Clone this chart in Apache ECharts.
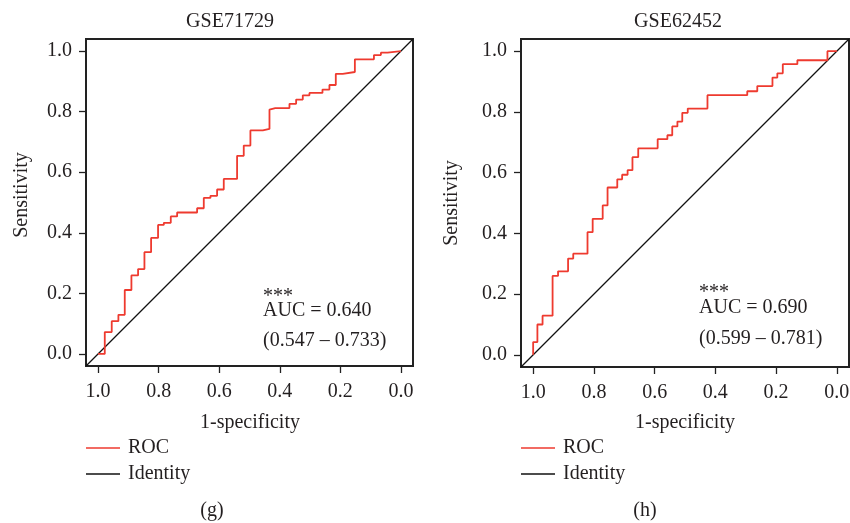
<!DOCTYPE html>
<html>
<head>
<meta charset="utf-8">
<script src="https://cdn.jsdelivr.net/npm/echarts@6/dist/echarts.min.js"></script>
<style>
html,body{margin:0;padding:0;background:#fff;}
#chart{width:850px;height:523px;}
</style>
</head>
<body>
<div id="chart"></div>
<script>
// ---- data ----
const titles = ['GSE71729', 'GSE62452'];
const panelTags = ['(g)', '(h)'];
const aucTexts = ['AUC = 0.640', 'AUC = 0.690'];
const ciTexts = ['(0.547 \u2013 0.733)', '(0.599 \u2013 0.781)'];
const tickValues = [0, 0.2, 0.4, 0.6, 0.8, 1.0];
const axisMin = -0.04;
const axisMax = 1.04;

// GSE71729 ROC vertices (specificity, sensitivity)
const spec71729 = [1.000,0.978,0.978,0.955,0.955,0.933,0.933,0.912,0.912,0.890,0.890,0.868,0.868,0.847,0.847,0.825,0.825,0.802,0.802,0.783,0.783,0.760,0.760,0.739,0.739,0.673,0.673,0.651,0.651,0.629,0.629,0.607,0.607,0.585,0.585,0.541,0.541,0.519,0.519,0.497,0.497,0.456,0.456,0.434,0.434,0.415,0.368,0.368,0.346,0.346,0.324,0.324,0.302,0.302,0.259,0.259,0.236,0.236,0.215,0.215,0.192,0.192,0.152,0.152,0.089,0.089,0.066,0.066,0.044,0.044,0.000];
const sens71729 = [0.000,0.000,0.072,0.072,0.108,0.108,0.129,0.129,0.211,0.211,0.259,0.259,0.280,0.280,0.336,0.336,0.383,0.383,0.426,0.426,0.433,0.433,0.454,0.454,0.467,0.467,0.481,0.481,0.515,0.515,0.522,0.522,0.543,0.543,0.578,0.578,0.654,0.654,0.688,0.688,0.738,0.738,0.743,0.743,0.807,0.812,0.812,0.826,0.826,0.840,0.840,0.854,0.854,0.862,0.862,0.873,0.873,0.888,0.888,0.925,0.925,0.931,0.931,0.973,0.973,0.987,0.987,0.995,0.995,1.000,1.000];

// GSE62452 ROC vertices (specificity, sensitivity)
const spec62452 = [1.000,1.000,0.986,0.986,0.969,0.969,0.936,0.936,0.918,0.918,0.885,0.885,0.868,0.868,0.821,0.821,0.804,0.804,0.771,0.771,0.755,0.755,0.723,0.723,0.707,0.707,0.689,0.689,0.673,0.673,0.654,0.654,0.590,0.590,0.558,0.558,0.542,0.542,0.525,0.525,0.509,0.509,0.491,0.491,0.426,0.426,0.295,0.295,0.262,0.262,0.212,0.212,0.196,0.196,0.178,0.178,0.130,0.130,0.031,0.031,0.000];
const sens62452 = [0.000,0.042,0.042,0.100,0.100,0.129,0.129,0.260,0.260,0.275,0.275,0.317,0.317,0.333,0.333,0.404,0.404,0.448,0.448,0.492,0.492,0.551,0.551,0.578,0.578,0.593,0.593,0.608,0.608,0.651,0.651,0.680,0.680,0.710,0.710,0.723,0.723,0.752,0.752,0.768,0.768,0.797,0.797,0.811,0.811,0.855,0.855,0.868,0.868,0.885,0.885,0.913,0.913,0.927,0.927,0.957,0.957,0.970,0.970,1.000,1.000];

// identity line: sensitivity = 1 - specificity across the full plotting range
const identitySpec = [axisMax, axisMin];
const identitySens = [axisMin, axisMax];

// ---- chart ----
const FONT = '"Liberation Serif", "Times New Roman", serif';
const TXT = '#231f20';
const RED = '#ee3a2f';
const zip = (a, b) => a.map((v, i) => [v, b[i]]);

const grids = [
  {left: 86, top: 39, width: 327, height: 327},
  {left: 521, top: 39, width: 328, height: 328}
];

function xAxisFor(i) {
  return {
    gridIndex: i, type: 'value', inverse: true, min: axisMin, max: axisMax, position: 'bottom',
    axisLine: {show: false, onZero: false},
    axisTick: {show: true, customValues: tickValues, length: 7, lineStyle: {color: '#222', width: 1.3}},
    axisLabel: {customValues: tickValues, formatter: v => v.toFixed(1), fontFamily: FONT, fontSize: 20, color: TXT, margin: 16},
    splitLine: {show: false}
  };
}
function yAxisFor(i) {
  return {
    gridIndex: i, type: 'value', min: axisMin, max: axisMax, position: 'left',
    axisLine: {show: false, onZero: false},
    axisTick: {show: true, customValues: tickValues, length: 7, lineStyle: {color: '#222', width: 1.3}},
    axisLabel: {customValues: tickValues, formatter: v => v.toFixed(1), fontFamily: FONT, fontSize: 20, color: TXT, margin: 14},
    splitLine: {show: false}
  };
}

const rocData = [zip(spec71729, sens71729), zip(spec62452, sens62452)];
const series = [];
[0, 1].forEach(i => {
  series.push({
    name: 'Identity', type: 'line', xAxisIndex: i, yAxisIndex: i,
    data: zip(identitySpec, identitySens), symbol: 'none', showSymbol: false, silent: true,
    lineStyle: {color: '#111', width: 1.3}, itemStyle: {color: '#111'}, z: 2
  });
  series.push({
    name: 'ROC', type: 'line', xAxisIndex: i, yAxisIndex: i,
    data: rocData[i], symbol: 'none', showSymbol: false, silent: true,
    lineStyle: {color: RED, width: 1.8}, itemStyle: {color: RED}, z: 3
  });
});

function txt(text, x, y, opts) {
  return Object.assign({
    type: 'text', x: x, y: y, silent: true,
    style: Object.assign({text: text, font: '20px ' + FONT, fill: TXT, align: 'center', verticalAlign: 'middle'}, (opts && opts.style) || {})
  }, (opts && opts.el) || {});
}

const graphics = [
  txt(titles[0], 230, 22),
  txt(titles[1], 678, 22),
  txt('1-specificity', 250, 423),
  txt('1-specificity', 685, 423),
  txt('Sensitivity', 22, 195, {el: {rotation: Math.PI / 2}}),
  txt('Sensitivity', 452, 203, {el: {rotation: Math.PI / 2}}),
  txt('***', 263, 297, {style: {align: 'left'}}),
  txt(aucTexts[0], 263, 311, {style: {align: 'left'}}),
  txt(ciTexts[0], 263, 341, {style: {align: 'left'}}),
  txt('***', 699, 293, {style: {align: 'left'}}),
  txt(aucTexts[1], 699, 308, {style: {align: 'left'}}),
  txt(ciTexts[1], 699, 339, {style: {align: 'left'}}),
  txt(panelTags[0], 212, 511),
  txt(panelTags[1], 645, 511)
];

const lineIcon = 'path://M0,0 L34,0 L34,1.5 L0,1.5 Z';
function legendFor(left) {
  return {
    left: left, top: 438, orient: 'vertical', padding: 0,
    data: [{name: 'ROC', icon: lineIcon}, {name: 'Identity', icon: lineIcon}],
    itemWidth: 34, itemHeight: 1.5, itemGap: 6, selectedMode: false,
    textStyle: {fontFamily: FONT, fontSize: 20, color: TXT, lineHeight: 20, padding: [0, 0, 0, 3]}
  };
}

const chart = echarts.init(document.getElementById('chart'), null, {renderer: 'canvas'});
chart.setOption({
  animation: false,
  backgroundColor: '#fff',
  grid: grids.map(g => Object.assign({show: true, borderColor: '#222', borderWidth: 2, backgroundColor: 'transparent', containLabel: false, outerBoundsMode: 'none'}, g)),
  xAxis: [xAxisFor(0), xAxisFor(1)],
  yAxis: [yAxisFor(0), yAxisFor(1)],
  legend: [legendFor(86), legendFor(521)],
  series: series,
  graphic: graphics
});
</script>
</body>
</html>
